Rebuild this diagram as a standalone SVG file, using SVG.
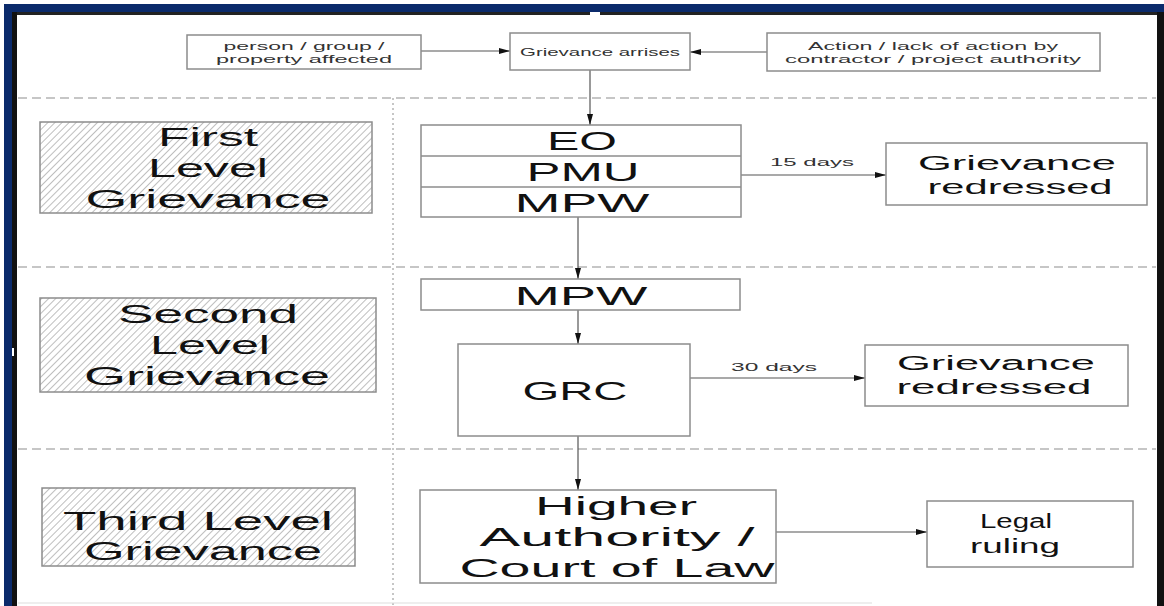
<svg xmlns="http://www.w3.org/2000/svg" width="1164" height="606" viewBox="0 0 1164 606">
<style>
.box{fill:#fff;stroke:#8c8c8c;stroke-width:1.5}
.hb{fill:url(#hatch);stroke:#8c8c8c;stroke-width:1.5}
.t{font-family:"Liberation Sans","DejaVu Sans",sans-serif;fill:#111;text-anchor:middle}
.big{font-size:26px}
.mid{font-size:20px}
.sm{font-size:11px;fill:#333}
.con{stroke:#555;stroke-width:1.2;fill:none}
.dash{stroke:#b4b4b4;stroke-width:1.5;stroke-dasharray:9 5;fill:none}
.dot{stroke:#b4b4b4;stroke-width:1.5;stroke-dasharray:2 3;fill:none}
</style>
<defs>
<pattern id="hatch" patternUnits="userSpaceOnUse" width="5" height="5" patternTransform="rotate(45)">
<rect width="5" height="5" fill="#fff"/>
<line x1="0" y1="0" x2="0" y2="5" stroke="#a8a8a8" stroke-width="1.5"/>
</pattern>
<marker id="ah" markerWidth="11" markerHeight="7" refX="11" refY="3.5" orient="auto" markerUnits="userSpaceOnUse">
<path d="M0,0.5 L11,3.5 L0,6.5 Z" fill="#111"/>
</marker>
</defs>
<rect width="1164" height="606" fill="#fff"/>
<!-- frame -->
<rect x="4" y="4" width="1160" height="8" fill="#0b2a6b"/>
<rect x="4" y="4" width="8" height="602" fill="#0b2a6b"/>
<rect x="12" y="12" width="1152" height="3" fill="#222"/>
<rect x="12" y="12" width="5" height="594" fill="#111"/>
<rect x="1157" y="12" width="7" height="594" fill="#111"/>
<rect x="590" y="12" width="10" height="3" fill="#fff"/>
<rect x="12" y="348" width="2" height="8" fill="#fff"/>
<g id="guides">
<line class="dash" x1="18" y1="98" x2="1156" y2="98"/>
<line class="dash" x1="18" y1="267" x2="1156" y2="267"/>
<line class="dash" x1="18" y1="449" x2="1156" y2="449"/>
<line class="dot" x1="393" y1="98" x2="393" y2="606"/>
<line x1="18" y1="603" x2="872" y2="603" stroke="#ddd" stroke-width="1"/>
</g>
<g id="connectors">
<line class="con" x1="421" y1="51" x2="510" y2="51" marker-end="url(#ah)"/>
<line class="con" x1="767" y1="52" x2="690" y2="52" marker-end="url(#ah)"/>
<line class="con" x1="590" y1="70" x2="590" y2="125" marker-end="url(#ah)"/>
<line class="con" x1="741" y1="175" x2="886" y2="175" marker-end="url(#ah)"/>
<line class="con" x1="578" y1="217" x2="578" y2="279" marker-end="url(#ah)"/>
<line class="con" x1="578" y1="310" x2="578" y2="344" marker-end="url(#ah)"/>
<line class="con" x1="690" y1="378" x2="865" y2="378" marker-end="url(#ah)"/>
<line class="con" x1="578" y1="436" x2="578" y2="490" marker-end="url(#ah)"/>
<line class="con" x1="776" y1="532" x2="927" y2="532" marker-end="url(#ah)"/>
<text class="t sm" x="812" y="166" textLength="84" lengthAdjust="spacingAndGlyphs">15 days</text>
<text class="t sm" x="774" y="371" textLength="86" lengthAdjust="spacingAndGlyphs">30 days</text>
</g>
<g id="person">
<rect class="box" x="187" y="35" width="234" height="34"/>
<text class="t sm" x="304" y="50" textLength="161" lengthAdjust="spacingAndGlyphs">person / group /</text>
<text class="t sm" x="304" y="63" textLength="176" lengthAdjust="spacingAndGlyphs">property affected</text>
</g>
<g id="arises">
<rect class="box" x="510" y="33" width="180" height="37"/>
<text class="t sm" x="600" y="56" textLength="160" lengthAdjust="spacingAndGlyphs">Grievance arrises</text>
</g>
<g id="action">
<rect class="box" x="767" y="33" width="333" height="38"/>
<text class="t sm" x="933" y="50" textLength="250" lengthAdjust="spacingAndGlyphs">Action / lack of action by</text>
<text class="t sm" x="933" y="63" textLength="296" lengthAdjust="spacingAndGlyphs">contractor / project authority</text>
</g>
<g id="level1">
<rect class="hb" x="40" y="122" width="332" height="91"/>
<text class="t big" x="208" y="146" textLength="100" lengthAdjust="spacingAndGlyphs">First</text>
<text class="t big" x="208" y="177" textLength="120" lengthAdjust="spacingAndGlyphs">Level</text>
<text class="t big" x="208" y="208" textLength="245" lengthAdjust="spacingAndGlyphs">Grievance</text>
</g>
<g id="eo-pmu-mpw">
<rect class="box" x="421" y="125" width="320" height="92"/>
<line class="box" x1="421" y1="156" x2="741" y2="156"/>
<line class="box" x1="421" y1="187" x2="741" y2="187"/>
<text class="t big" x="582" y="150" textLength="70" lengthAdjust="spacingAndGlyphs">EO</text>
<text class="t big" x="583" y="181" textLength="113" lengthAdjust="spacingAndGlyphs">PMU</text>
<text class="t big" x="582" y="212" textLength="135" lengthAdjust="spacingAndGlyphs">MPW</text>
</g>
<g id="redressed1">
<rect class="box" x="886" y="143" width="261" height="62"/>
<text class="t mid" x="1017" y="170" textLength="198" lengthAdjust="spacingAndGlyphs">Grievance</text>
<text class="t mid" x="1020" y="194" textLength="185" lengthAdjust="spacingAndGlyphs">redressed</text>
</g>
<g id="level2">
<rect class="hb" x="40" y="298" width="336" height="94"/>
<text class="t big" x="208" y="323" textLength="180" lengthAdjust="spacingAndGlyphs">Second</text>
<text class="t big" x="210" y="354" textLength="120" lengthAdjust="spacingAndGlyphs">Level</text>
<text class="t big" x="207" y="385" textLength="246" lengthAdjust="spacingAndGlyphs">Grievance</text>
</g>
<g id="mpw2">
<rect class="box" x="421" y="279" width="319" height="31"/>
<text class="t big" x="581" y="305" textLength="133" lengthAdjust="spacingAndGlyphs">MPW</text>
</g>
<g id="grc">
<rect class="box" x="458" y="344" width="232" height="92"/>
<text class="t big" x="575" y="400" textLength="105" lengthAdjust="spacingAndGlyphs">GRC</text>
</g>
<g id="redressed2">
<rect class="box" x="865" y="345" width="263" height="61"/>
<text class="t mid" x="996" y="370" textLength="198" lengthAdjust="spacingAndGlyphs">Grievance</text>
<text class="t mid" x="994" y="394" textLength="195" lengthAdjust="spacingAndGlyphs">redressed</text>
</g>
<g id="level3">
<rect class="hb" x="42" y="488" width="313" height="78"/>
<text class="t big" x="198" y="530" textLength="270" lengthAdjust="spacingAndGlyphs">Third Level</text>
<text class="t big" x="203" y="560" textLength="238" lengthAdjust="spacingAndGlyphs">Grievance</text>
</g>
<g id="higher">
<rect class="box" x="420" y="490" width="356" height="93"/>
<text class="t big" x="616" y="515" textLength="162" lengthAdjust="spacingAndGlyphs">Higher</text>
<text class="t big" x="617" y="546" textLength="275" lengthAdjust="spacingAndGlyphs">Authority /</text>
<text class="t big" x="617" y="577" textLength="315" lengthAdjust="spacingAndGlyphs">Court of Law</text>
</g>
<g id="legal">
<rect class="box" x="927" y="501" width="206" height="66"/>
<text class="t mid" x="1016" y="528" textLength="72" lengthAdjust="spacingAndGlyphs">Legal</text>
<text class="t mid" x="1015" y="553" textLength="90" lengthAdjust="spacingAndGlyphs">ruling</text>
</g>
</svg>
